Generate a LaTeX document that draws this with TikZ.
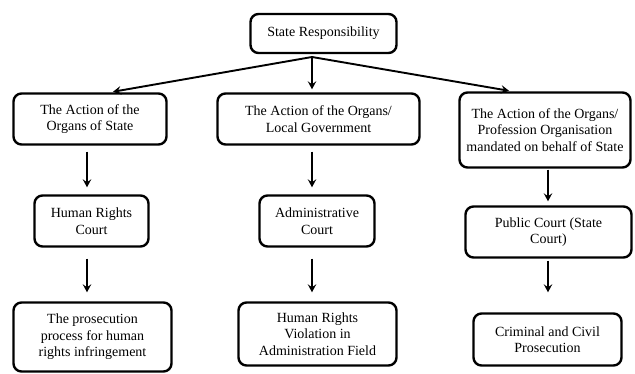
\documentclass[tikz,border=0pt]{standalone}
\usepackage{fontspec}
\setmainfont{Liberation Serif}
\usetikzlibrary{arrows.meta,calc}
\begin{document}
\begin{tikzpicture}[x=1pt,y=-1pt,
  box/.style={draw=black,line width=2.4pt,rounded corners=8pt,align=center,
    inner sep=2pt,font=\fontsize{14}{16.5}\selectfont,fill=white},
  arr/.style={draw=black,line width=1.9pt,-{Stealth[length=8pt,width=8.5pt,inset=3pt]}}]
\useasboundingbox (0,0) rectangle (635,374);
\fill[white] (0,0) rectangle (635,374);
\node[box,minimum width=146pt,minimum height=39pt] (top) at (323.5,33.5) {State Responsibility};
\node[box,minimum width=153pt,minimum height=51pt] (A) at (90,119) {The Action of the\\Organs of State};
\node[box,minimum width=202pt,minimum height=51pt] (B) at (318.5,119) {The Action of the Organs/\\Local Government};
\node[box,minimum width=171pt,minimum height=75pt] (C) at (545,130) {The Action of the Organs/\\Profession Organisation\\mandated on behalf of State};
\node[box,minimum width=114pt,minimum height=51pt] (D) at (91.5,221) {Human Rights\\Court};
\node[box,minimum width=115pt,minimum height=51pt] (E) at (317,221) {Administrative\\Court};
\node[box,minimum width=166pt,minimum height=51pt] (F) at (548.5,232) {Public Court (State\\Court)};
\node[box,minimum width=158pt,minimum height=69pt] (G) at (92.5,337) {The prosecution\\process for human\\rights infringement};
\node[box,minimum width=158pt,minimum height=63pt] (H) at (317.5,334) {Human Rights\\Violation in\\Administration Field};
\node[box,minimum width=148pt,minimum height=52pt] (I) at (547.5,339.5) {Criminal and Civil\\Prosecution};
\coordinate (j) at (312,57);
\coordinate (cA) at (87,0);
\coordinate (cB) at (312,0);
\coordinate (cC) at (548,0);
\draw[arr,shorten >=3pt] (j) -- ([xshift=20pt]A.north);
\draw[arr,shorten >=3pt] (j) -- (cB |- B.north);
\draw[arr,shorten >=3pt] (j) -- ([xshift=-33pt]C.north);
\draw[arr,shorten <=6pt,shorten >=7pt] (cA |- A.south) -- (cA |- D.north);
\draw[arr,shorten <=6pt,shorten >=7pt] (cB |- B.south) -- (cB |- E.north);
\draw[arr,shorten <=1pt,shorten >=4pt] (cC |- C.south) -- (cC |- F.north);
\draw[arr,shorten <=11pt,shorten >=9pt] (cA |- D.south) -- (cA |- G.north);
\draw[arr,shorten <=11pt,shorten >=9pt] (cB |- E.south) -- (cB |- H.north);
\draw[arr,shorten <=2pt,shorten >=20pt] (cC |- F.south) -- (cC |- I.north);
\end{tikzpicture}
\end{document}
